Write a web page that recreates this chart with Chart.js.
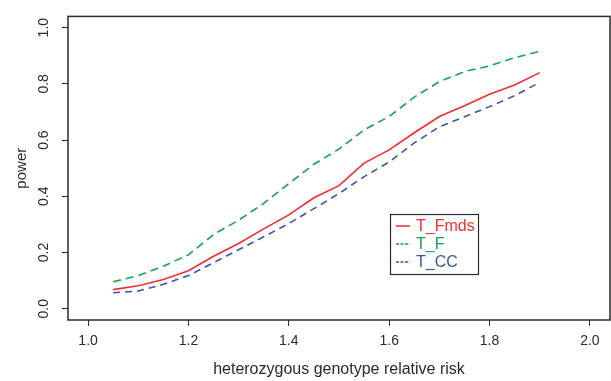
<!DOCTYPE html>
<html>
<head>
<meta charset="utf-8">
<script src="https://cdn.jsdelivr.net/npm/chart.js@4"></script>
<style>
  html, body { margin: 0; padding: 0; background: #fff; }
  #wrap { width: 611px; height: 381px; }
</style>
</head>
<body>
<div id="wrap"><canvas id="power-chart"></canvas></div>
<script>
// data
const riskX = [1.05, 1.10, 1.15, 1.20, 1.25, 1.30, 1.35, 1.40, 1.45, 1.50, 1.55, 1.60, 1.65, 1.70, 1.75, 1.80, 1.85, 1.90];
const tFmds = [0.068, 0.082, 0.104, 0.135, 0.187, 0.232, 0.284, 0.334, 0.395, 0.438, 0.518, 0.565, 0.626, 0.684, 0.722, 0.763, 0.796, 0.840];
const tF = [0.096, 0.118, 0.151, 0.192, 0.264, 0.315, 0.375, 0.445, 0.514, 0.568, 0.636, 0.684, 0.753, 0.808, 0.844, 0.864, 0.893, 0.916];
const tCC = [0.057, 0.063, 0.087, 0.118, 0.164, 0.210, 0.256, 0.303, 0.356, 0.410, 0.470, 0.522, 0.590, 0.647, 0.683, 0.719, 0.758, 0.805];
const xTicks = [1.0, 1.2, 1.4, 1.6, 1.8, 2.0];
const yTicks = [0.0, 0.2, 0.4, 0.6, 0.8, 1.0];

const RED = "#ee2e31";
const GREEN = "#12a64f";
const BLUE = "#3b54a6";
const INK = "#2a2a2a";
const FONT = "'Liberation Sans', Arial, sans-serif";

const toPts = (ys) => riskX.map((x, i) => ({ x: x, y: ys[i] }));

// R style box around the plot + legend inside
const boxPlugin = {
  id: "rbox",
  afterDraw(chart) {
    const { ctx, chartArea: a } = chart;
    ctx.save();
    ctx.strokeStyle = INK;
    ctx.lineWidth = 1.5;
    ctx.strokeRect(a.left, a.top, a.right - a.left, a.bottom - a.top);

    // legend
    const lx = 390, ly = 214, lw = 88, lh = 60;
    ctx.fillStyle = "#fff";
    ctx.fillRect(lx, ly, lw, lh);
    ctx.lineWidth = 1.2;
    ctx.strokeRect(lx + 0.5, ly + 0.5, lw, lh);
    ctx.font = "16px " + FONT;
    ctx.textBaseline = "middle";
    ctx.textAlign = "left";
    chart.data.datasets.forEach((ds, i) => {
      const y = ly + 12 + i * 18;
      ctx.strokeStyle = ds.borderColor;
      ctx.lineWidth = 1.5;
      ctx.setLineDash(i === 0 ? [] : [3, 1.5]);
      ctx.beginPath();
      ctx.moveTo(lx + 6, y);
      ctx.lineTo(lx + 20, y);
      ctx.stroke();
      ctx.setLineDash([]);
      ctx.fillStyle = ds.borderColor;
      ctx.fillText(ds.label, lx + 26, y + 1);
    });
    ctx.restore();
  }
};

const ctx = document.getElementById("power-chart").getContext("2d");
new Chart(ctx, {
  type: "line",
  data: {
    datasets: [
      { label: "T_Fmds", data: toPts(tFmds), borderColor: RED, borderWidth: 1.6, pointRadius: 0, fill: false, tension: 0 },
      { label: "T_F", data: toPts(tF), borderColor: GREEN, borderWidth: 1.6, borderDash: [8, 5], pointRadius: 0, fill: false, tension: 0 },
      { label: "T_CC", data: toPts(tCC), borderColor: BLUE, borderWidth: 1.6, borderDash: [7, 5], pointRadius: 0, fill: false, tension: 0 }
    ]
  },
  options: {
    responsive: true,
    maintainAspectRatio: false,
    animation: false,
    layout: { padding: { top: 9, right: 1, left: 0, bottom: 0 } },
    plugins: { legend: { display: false }, tooltip: { enabled: false } },
    scales: {
      x: {
        type: "linear",
        min: 0.96,
        max: 2.04,
        afterBuildTicks: (s) => { s.ticks = xTicks.map((v) => ({ value: v })); },
        afterFit: (s) => { s.height = 61; },
        grid: { display: true, drawOnChartArea: false, drawTicks: true, tickLength: 6, color: INK, lineWidth: 1 },
        border: { display: false },
        ticks: {
          color: INK,
          padding: 7,
          font: { family: FONT, size: 14 },
          maxRotation: 0,
          callback: (v) => Number(v).toFixed(1)
        },
        title: { display: true, text: "heterozygous genotype relative risk", color: INK, font: { family: FONT, size: 16 }, padding: { top: 0, bottom: 2 } }
      },
      y: {
        type: "linear",
        min: -0.04,
        max: 1.04,
        afterBuildTicks: (s) => { s.ticks = yTicks.map((v) => ({ value: v })); },
        afterFit: (s) => { s.width = 68; },
        grid: { display: true, drawOnChartArea: false, drawTicks: true, tickLength: 6, color: INK, lineWidth: 1 },
        border: { display: false },
        ticks: {
          color: INK,
          padding: 8,
          minRotation: 90,
          maxRotation: 90,
          crossAlign: "center",
          font: { family: FONT, size: 14 },
          callback: (v) => Number(v).toFixed(1)
        },
        title: { display: true, text: "power", color: INK, font: { family: FONT, size: 15 }, padding: { top: 13, bottom: 0 } }
      }
    }
  },
  plugins: [boxPlugin]
});
</script>
</body>
</html>
